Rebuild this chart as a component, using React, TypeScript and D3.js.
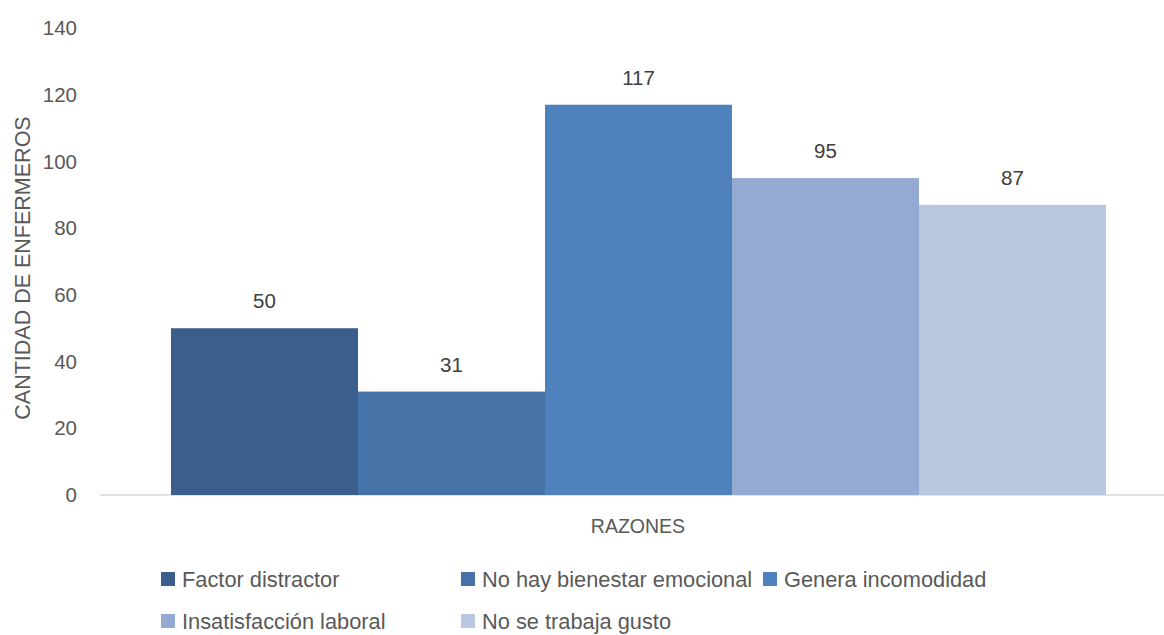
import { useRef, useEffect } from 'react';
import * as d3 from 'd3';

const REASONS = [
  'Factor distractor',
  'No hay bienestar emocional',
  'Genera incomodidad',
  'Insatisfacción laboral',
  'No se trabaja gusto',
];
const COUNTS = [50, 31, 117, 95, 87];
const COLORS = ['#3b5f8d', '#4573a8', '#4f81bd', '#95aad2', '#b9c8e1'];
const Y_TICKS = [0, 20, 40, 60, 80, 100, 120, 140];
const CATEGORY = 'RAZONES';

const W = 1164;
const H = 635;
const FONT = '"Liberation Sans", Arial, sans-serif';
const TEXT = '#595959';

export default function App() {
  const svgRef = useRef<SVGSVGElement>(null);

  useEffect(() => {
    if (!svgRef.current) return;
    const svg = d3.select(svgRef.current);
    svg.selectAll('*').remove();

    const y = d3.scaleLinear().domain([0, 140]).range([495, 28]);
    const x = d3.scaleBand<string>().domain(REASONS).range([171, 1106]).padding(0);

    // Axis baseline
    svg.append('line')
      .attr('x1', 100).attr('x2', W)
      .attr('y1', y(0)).attr('y2', y(0))
      .attr('stroke', '#d9d9d9').attr('stroke-width', 1.5);

    // Y tick labels
    svg.append('g')
      .selectAll('text')
      .data(Y_TICKS)
      .join('text')
      .attr('x', 77).attr('y', d => y(d))
      .attr('dy', '0.35em')
      .attr('text-anchor', 'end')
      .attr('fill', TEXT).attr('font-size', '20.5px').attr('font-family', FONT)
      .text(d => d);

    // Bars
    svg.append('g')
      .selectAll('rect')
      .data(REASONS)
      .join('rect')
      .attr('x', d => x(d)!)
      .attr('y', (_, i) => y(COUNTS[i]))
      .attr('width', x.bandwidth())
      .attr('height', (_, i) => y(0) - y(COUNTS[i]))
      .attr('fill', (_, i) => COLORS[i]);

    // Value labels
    svg.append('g')
      .selectAll('text')
      .data(REASONS)
      .join('text')
      .attr('x', d => x(d)! + x.bandwidth() / 2)
      .attr('y', (_, i) => y(COUNTS[i]) - 20)
      .attr('text-anchor', 'middle')
      .attr('fill', '#404040').attr('font-size', '20.5px').attr('font-family', FONT)
      .text((_, i) => COUNTS[i]);

    // Axis titles
    svg.append('text')
      .attr('x', 638).attr('y', 533)
      .attr('text-anchor', 'middle')
      .attr('fill', TEXT).attr('font-size', '19.5px').attr('font-family', FONT)
      .text(CATEGORY);

    svg.append('text')
      .attr('transform', 'rotate(-90)')
      .attr('x', -268).attr('y', 30)
      .attr('text-anchor', 'middle')
      .attr('fill', TEXT).attr('font-size', '21.5px').attr('font-family', FONT)
      .text('CANTIDAD DE ENFERMEROS');

    // Legend
    const legendPos = [
      [161, 572], [461, 572], [763, 572],
      [161, 614], [461, 614],
    ];
    const lg = svg.append('g')
      .selectAll('g')
      .data(REASONS)
      .join('g')
      .attr('transform', (_, i) => `translate(${legendPos[i][0]},${legendPos[i][1]})`);
    lg.append('rect')
      .attr('width', 14).attr('height', 14)
      .attr('fill', (_, i) => COLORS[i]);
    lg.append('text')
      .attr('x', 21).attr('y', 7).attr('dy', '0.35em')
      .attr('fill', TEXT).attr('font-size', '21.8px').attr('font-family', FONT)
      .text(d => d);
  }, []);

  return (
    <div style={{ position: 'absolute', left: 0, top: 0 }}>
      <svg ref={svgRef} width={W} height={H} style={{ display: 'block', background: '#fff' }} />
    </div>
  );
}
